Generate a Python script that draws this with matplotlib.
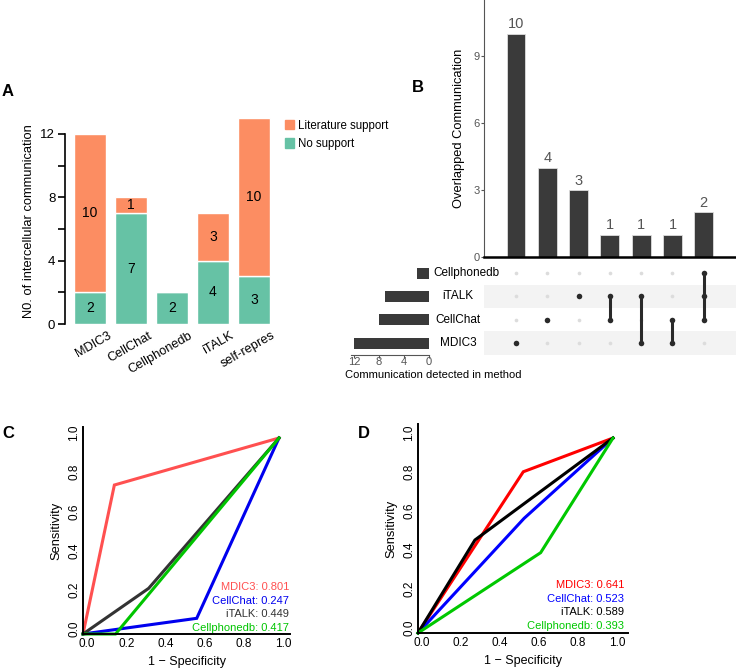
import numpy as np
import matplotlib
matplotlib.use('Agg')
import matplotlib.pyplot as plt
from matplotlib.patches import Patch
from matplotlib.transforms import ScaledTranslation

plt.rcParams['font.family'] = ['Liberation Sans', 'DejaVu Sans']

# ---- data ----
# panel A
methods_a = ['MDIC3', 'CellChat', 'Cellphonedb', 'iTALK', 'self-repres']
no_support = [2, 7, 2, 4, 3]
lit_support = [10, 1, 0, 3, 10]

# panel B (upset)
set_names = ['MDIC3', 'CellChat', 'iTALK', 'Cellphonedb']   # bottom -> top
set_sizes = [12, 8, 7, 2]
combos = [['MDIC3'], ['CellChat'], ['iTALK'], ['iTALK', 'CellChat'],
          ['iTALK', 'MDIC3'], ['CellChat', 'MDIC3'],
          ['Cellphonedb', 'iTALK', 'CellChat']]
combo_counts = [10, 4, 3, 1, 1, 1, 2]

# panels C/D (ROC)
roc_names = ['MDIC3', 'CellChat', 'iTALK', 'Cellphonedb']
roc_c_fpr = {'MDIC3': [0, 0.16, 1], 'CellChat': [0, 0.58, 1],
             'iTALK': [0, 0.335, 1], 'Cellphonedb': [0, 0.166, 1]}
roc_c_tpr = {'MDIC3': [0, 0.76, 1], 'CellChat': [0, 0.08, 1],
             'iTALK': [0, 0.233, 1], 'Cellphonedb': [0, 0.0, 1]}
auc_c = {'MDIC3': '0.801', 'CellChat': '0.247', 'iTALK': '0.449', 'Cellphonedb': '0.417'}
roc_d_fpr = {'MDIC3': [0, 0.54, 1], 'CellChat': [0, 0.544, 1],
             'iTALK': [0, 0.292, 1], 'Cellphonedb': [0, 0.629, 1]}
roc_d_tpr = {'MDIC3': [0, 0.827, 1], 'CellChat': [0, 0.588, 1],
             'iTALK': [0, 0.477, 1], 'Cellphonedb': [0, 0.412, 1]}
auc_d = {'MDIC3': '0.641', 'CellChat': '0.523', 'iTALK': '0.589', 'Cellphonedb': '0.393'}

W, H = 736, 669
fig = plt.figure(figsize=(W / 100, H / 100), dpi=100)


def ax_px(l, t, r, b):
    return fig.add_axes([l / W, 1 - b / H, (r - l) / W, (b - t) / H])


def shift(dx_px, dy_px):
    return ScaledTranslation(dx_px / 100, dy_px / 100, fig.dpi_scale_trans)


# ---------------- panel A ----------------
orange = '#FC8D62'
green = '#66C2A5'
axA = ax_px(65, 118, 272, 324)
x = np.arange(len(methods_a))
axA.bar(x, no_support, width=0.78, color=green, edgecolor='white', linewidth=1)
axA.bar(x, lit_support, bottom=no_support, width=0.78, color=orange,
        edgecolor='white', linewidth=1)
for i in range(len(x)):
    if no_support[i] > 0:
        axA.text(x[i], no_support[i] / 2, str(no_support[i]), ha='center',
                 va='center', fontsize=10)
    if lit_support[i] > 0:
        axA.text(x[i], no_support[i] + lit_support[i] / 2, str(lit_support[i]),
                 ha='center', va='center', fontsize=10)
axA.set_xlim(-0.61, 4.44)
axA.set_ylim(0, 13)
for s in ['top', 'right', 'bottom']:
    axA.spines[s].set_visible(False)
axA.spines['left'].set_bounds(0, 12)
axA.spines['left'].set_linewidth(1.2)
axA.set_yticks([0, 4, 8, 12])
axA.set_yticks([2, 6, 10], minor=True)
axA.tick_params(axis='y', labelsize=9.5, length=5, width=1.2, which='both', pad=2)
axA.set_xticks(x)
axA.set_xticklabels(methods_a, rotation=30, ha='right', rotation_mode='anchor',
                    fontsize=9.2)
axA.tick_params(axis='x', length=0, pad=4)
for lbl in axA.get_xticklabels():
    lbl.set_transform(lbl.get_transform() + shift(17, 0))
axA.set_ylabel('N0. of intercellular communication', fontsize=9.3, labelpad=4)
fig.legend(handles=[Patch(color=orange, label='Literature support'),
                    Patch(color=green, label='No support')],
           loc='upper left', bbox_to_anchor=(280 / W, 1 - 115 / H), frameon=False,
           fontsize=8.3, handlelength=0.8, handleheight=0.9, handletextpad=0.4,
           labelspacing=0.55, borderaxespad=0)
fig.text(2 / W, 1 - 92 / H, 'A', fontsize=12, fontweight='bold', va='center')

# ---------------- panel B ----------------
bar_dark = '#3a3a3a'
axB = ax_px(484, 0, 736, 257)
cx = np.arange(len(combos))
axB.bar(cx, combo_counts, width=0.6, color=bar_dark, edgecolor='#dddddd', linewidth=0.6)
for i, v in enumerate(combo_counts):
    axB.text(cx[i], v + 0.1, str(v), ha='center', va='bottom', fontsize=10.5, color='#555555')
axB.set_xlim(-1.02, 7.03)
axB.set_ylim(0, 11.5)
axB.set_yticks([0, 3, 6, 9])
axB.set_xticks([])
axB.tick_params(axis='y', labelsize=8, colors='#555555', length=2, pad=1)
for s in ['top', 'right']:
    axB.spines[s].set_visible(False)
axB.spines['left'].set_color('#555555')
axB.spines['bottom'].set_linewidth(1.8)
axB.set_ylabel('Overlapped Communication', fontsize=9.3, labelpad=6)
fig.text(412 / W, 1 - 88 / H, 'B', fontsize=12, fontweight='bold', va='center')

# matrix
axM = ax_px(484, 261.5, 736, 354.7)
axM.set_xlim(-1.02, 7.03)
axM.set_ylim(-0.5, 3.5)
for j in range(len(set_names)):
    if j % 2 == 0:
        axM.axhspan(j - 0.5, j + 0.5, color='#f3f3f3', zorder=0, lw=0)
for i, combo in enumerate(combos):
    active = [j for j, n in enumerate(set_names) if n in combo]
    inactive = [j for j, n in enumerate(set_names) if n not in combo]
    axM.scatter([i] * len(inactive), inactive, s=7, color='#dcdcdc', zorder=2, lw=0)
    axM.scatter([i] * len(active), active, s=16, color='#2a2a2a', zorder=3, lw=0)
    if len(active) > 1:
        axM.plot([i, i], [min(active), max(active)], color='#2a2a2a', lw=2.2,
                 zorder=3, solid_capstyle='butt')
axM.axis('off')

# set-size bars
axS = ax_px(351, 261.5, 429, 354.7)
axS.barh(np.arange(len(set_names)), set_sizes, height=0.47, color=bar_dark)
axS.set_xlim(12.5, 0)
axS.set_ylim(-0.5, 3.5)
axS.set_xticks([12, 8, 4, 0])
axS.set_yticks([])
axS.tick_params(axis='x', labelsize=8, colors='#555555', length=2, pad=0)
for s in ['top', 'right', 'left']:
    axS.spines[s].set_visible(False)
axS.spines['bottom'].set_color('#555555')
for j, n in enumerate(set_names):
    yy = 1 - (343 - j * 23.3) / H
    if len(n) > 9:
        fig.text(433 / W, yy, n, ha='left', va='center', fontsize=8.5)
    else:
        fig.text(458 / W, yy, n, ha='center', va='center', fontsize=8.5)
fig.text(433 / W, 1 - 375 / H, 'Communication detected in method', ha='center',
         va='center', fontsize=8)


# ---------------- panels C/D ----------------
def roc_panel(box, fpr, tpr, aucs, colors, xmax, ymax, txt_x, txt_y0):
    ax = ax_px(*box)
    for n in roc_names:
        ax.plot(fpr[n], tpr[n], color=colors[n], lw=2.2, solid_joinstyle='miter',
                clip_on=False)
    ax.set_xlim(0, xmax)
    ax.set_ylim(0, ymax)
    for s in ['top', 'right']:
        ax.spines[s].set_visible(False)
    for s in ['left', 'bottom']:
        ax.spines[s].set_linewidth(1.4)
    ticks = [0.0, 0.2, 0.4, 0.6, 0.8, 1.0]
    ax.set_xticks(ticks)
    ax.set_yticks(ticks)
    ax.set_xticklabels(['%.1f' % t for t in ticks])
    ax.set_yticklabels(['%.1f' % t for t in ticks], rotation=90, va='center')
    ax.tick_params(axis='x', labelsize=8.5, length=0, pad=3)
    ax.tick_params(axis='y', labelsize=8.5, length=0, pad=2)
    for lbl in ax.get_xticklabels():
        lbl.set_transform(lbl.get_transform() + shift(4, 0))
    for lbl in ax.get_yticklabels():
        lbl.set_transform(lbl.get_transform() + shift(0, 5))
    ax.set_xlabel('1 \u2212 Specificity', fontsize=9, labelpad=4)
    ax.set_ylabel('Sensitivity', fontsize=9.3, labelpad=4)
    for k, n in enumerate(roc_names):
        fig.text(txt_x / W, 1 - (txt_y0 + k * 13.7) / H, '%s: %s' % (n, aucs[n]),
                 ha='right', va='center', fontsize=8, color=colors[n])
    return ax


colors_c = {'MDIC3': '#FF5050', 'CellChat': '#0000EE', 'iTALK': '#333333',
            'Cellphonedb': '#00C400'}
colors_d = {'MDIC3': '#FF0000', 'CellChat': '#0000FF', 'iTALK': '#000000',
            'Cellphonedb': '#00C800'}
roc_panel((83, 427, 290, 634), roc_c_fpr, roc_c_tpr, auc_c, colors_c,
          1.056, 1.056, 289, 587)
roc_panel((418, 424, 628, 633), roc_d_fpr, roc_d_tpr, auc_d, colors_d,
          1.077, 1.072, 624, 585)
fig.text(2 / W, 1 - 434 / H, 'C', fontsize=12, fontweight='bold', va='center')
fig.text(358 / W, 1 - 434 / H, 'D', fontsize=12, fontweight='bold', va='center')

fig.savefig('out.png', dpi=100)
